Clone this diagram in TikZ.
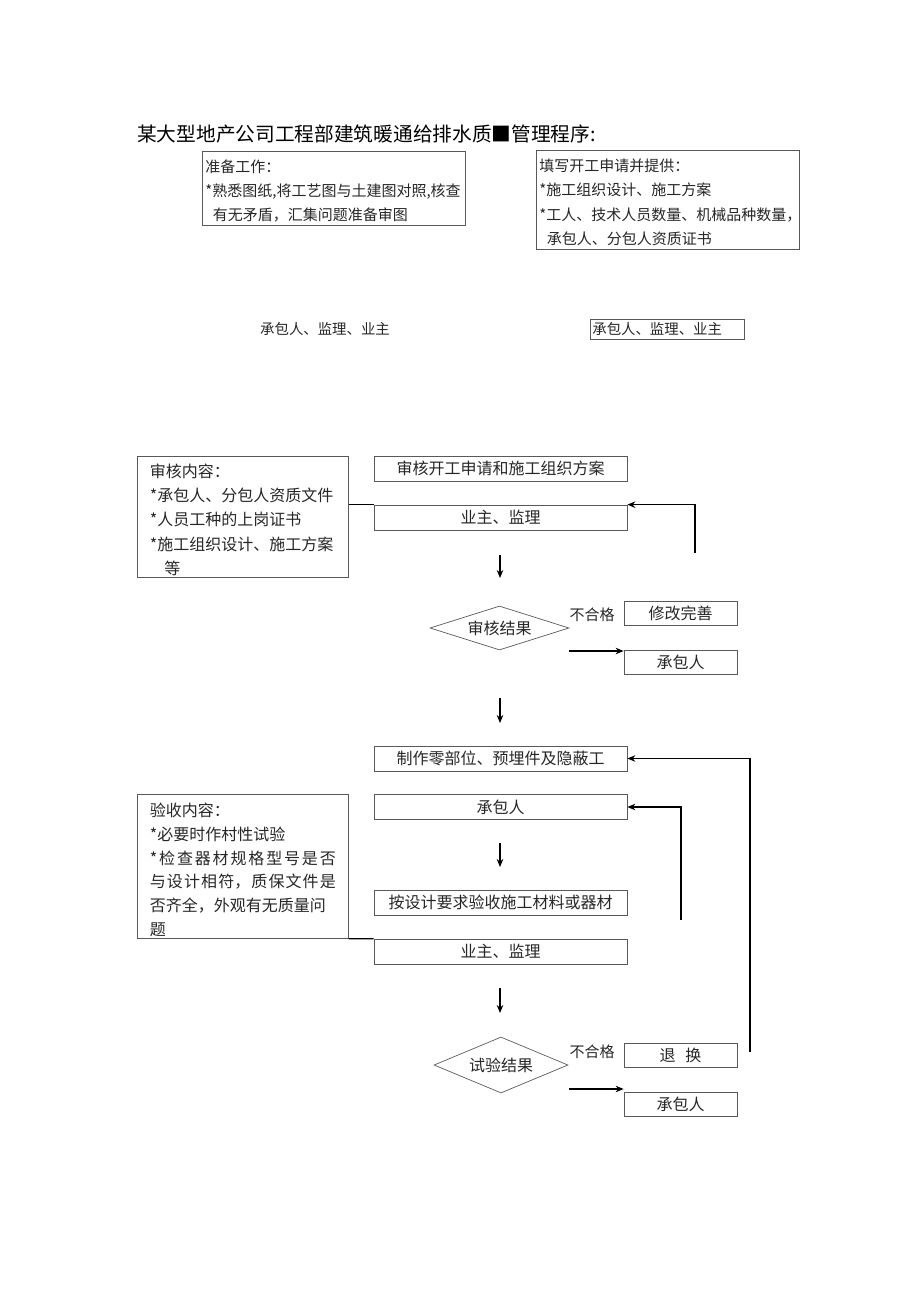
\documentclass[tikz,border=0pt]{standalone}
\usepackage{fontspec}
\setmainfont{Noto Sans CJK SC}
\usetikzlibrary{shapes.geometric, arrows.meta}

% stretchable glue between CJK characters, for justified lines
\newcommand\spreadcjk{\XeTeXlinebreaklocale "zh"\XeTeXlinebreakskip=0pt plus 6pt\relax}

\tikzset{
  box/.style={draw=black!65, line width=0.7pt, inner sep=0pt,
    font=\fontsize{16}{24.5}\selectfont, text=black!85},
  topnote/.style={box, anchor=north west, align=left, inner xsep=3pt, inner ysep=0pt,
    text width=257pt},
  notebox/.style={box, anchor=north west, align=left, inner xsep=12.5pt, inner ysep=0pt,
    text width=186pt},
  stepbox/.style={box, minimum width=253pt, minimum height=25pt},
  sidebox/.style={box, minimum width=113pt, minimum height=24pt},
  result/.style={box, diamond, aspect=3.2, minimum width=139pt, minimum height=44pt},
  word/.style={inner sep=0pt, font=\fontsize{15}{16}\selectfont, text=black!85},
  flow/.style={-{Stealth[length=8pt, width=6.5pt]}, line width=1.3pt, black},
}

\begin{document}
\begin{tikzpicture}[x=1pt, y=-1pt]
  \useasboundingbox (0,0) rectangle (920,1301);

  \node[anchor=west, inner sep=0pt, font=\fontsize{19.7}{22}\selectfont] (title) at (137,134)
    {某大型地产公司工程部建筑暖通给排水质■管理程序:};

  % preparation and application
  \node[topnote, text height=20.7pt, text depth=53.3pt, font=\fontsize{15}{24}\selectfont] (prep) at (202,151)
    {准备工作：\\{}*熟悉图纸,将工艺图与土建图对照,核查\\\hspace{0.5em}有无矛盾，汇集问题准备审图};
  \node[topnote, text height=20.7pt, text depth=78.3pt, font=\fontsize{15}{24.6}\selectfont] (apply) at (536,150)
    {填写开工申请并提供：\\{}*施工组织设计、施工方案\\{}*工人、技术人员数量、机械品种数量，\\\hspace{0.5em}承包人、分包人资质证书};

  \node[word, font=\fontsize{14.4}{16}\selectfont] (parties) at (325,329) {承包人、监理、业主};
  \node[box, anchor=west, minimum width=154pt, minimum height=20pt, text width=150pt,
    align=left, inner xsep=2pt, font=\fontsize{14.4}{16}\selectfont] (partiesbox) at (590,329)
    {承包人、监理、业主};

  % review of application
  \node[notebox, text height=21.1pt, text depth=99.9pt, font=\fontsize{16}{24.2}\selectfont] (checknote) at (137,456)
    {审核内容：\\{}*承包人、分包人资质文件\\{}*人员工种的上岗证书\\{}*施工组织设计、施工方案\\\hspace{0.9em}等};
  \node[stepbox] (review) at (500.5,468.5) {审核开工申请和施工组织方案};
  \node[stepbox] (owner1) at (500.5,517.5) {业主、监理};
  \node[result] (res1) at (499.5,628) {审核结果};
  \node[word] (fail1) at (592,615) {不合格};
  \node[sidebox] (revise) at (680.5,613) {修改完善};
  \node[sidebox] (con1) at (680.5,662) {承包人};

  % materials acceptance
  \node[stepbox] (make) at (500.5,758.5) {制作零部位、预埋件及隐蔽工};
  \node[stepbox] (con2) at (500.5,807) {承包人};
  \node[stepbox] (accept) at (500.5,902.5) {按设计要求验收施工材料或器材};
  \node[stepbox] (owner2) at (500.5,951.5) {业主、监理};
  \node[notebox, text height=22.1pt, text depth=121.9pt, align=justify,
    font=\fontsize{16}{23.8}\selectfont\spreadcjk] (acceptnote) at (137,794)
    {验收内容：\\{}*必要时作村性试验\\{}*检查器材规格型号是否\linebreak 与设计相符，质保文件是\linebreak 否齐全，外观有无质量问\\题};
  \node[result, aspect=2.4, minimum width=134pt, minimum height=56pt] (res2) at (501,1065) {试验结果};
  \node[word] (fail2) at (592,1052) {不合格};
  \node[sidebox] (swap) at (680.5,1055) {退\hspace{0.6em}换};
  \node[sidebox] (con3) at (680.5,1104) {承包人};

  % free ends
  \coordinate (d1a) at (500,555);  \coordinate (d1b) at (500,578);
  \coordinate (d2a) at (500,698);  \coordinate (d2b) at (500,723);
  \coordinate (d3a) at (500,843);  \coordinate (d3b) at (500,867);
  \coordinate (d4a) at (500,988);  \coordinate (d4b) at (500,1013);
  \coordinate (fb1) at (695,553);
  \coordinate (fb2) at (681,920);
  \coordinate (fb3) at (750,1052);
  \coordinate (ok1) at (569,651);
  \coordinate (ok2) at (569,1089);

  \begin{scope}[line width=1.3pt, black]
    \draw (checknote.east |- owner1.north west) -- (owner1.north west);
    \draw (acceptnote.south east) -- (owner2.north west);
  \end{scope}
  \begin{scope}[flow]
    \draw (d1a) -- (d1b);
    \draw (d2a) -- (d2b);
    \draw (d3a) -- (d3b);
    \draw (d4a) -- (d4b);
    \draw (fb1) |- (owner1.north east);
    \draw (fb2) |- (con2.east);
    \draw (fb3) |- (make.east);
    \draw (ok1) -- (ok1 -| con1.north west);
    \draw (ok2) -- (ok2 -| con3.north west);
  \end{scope}
\end{tikzpicture}
\end{document}
